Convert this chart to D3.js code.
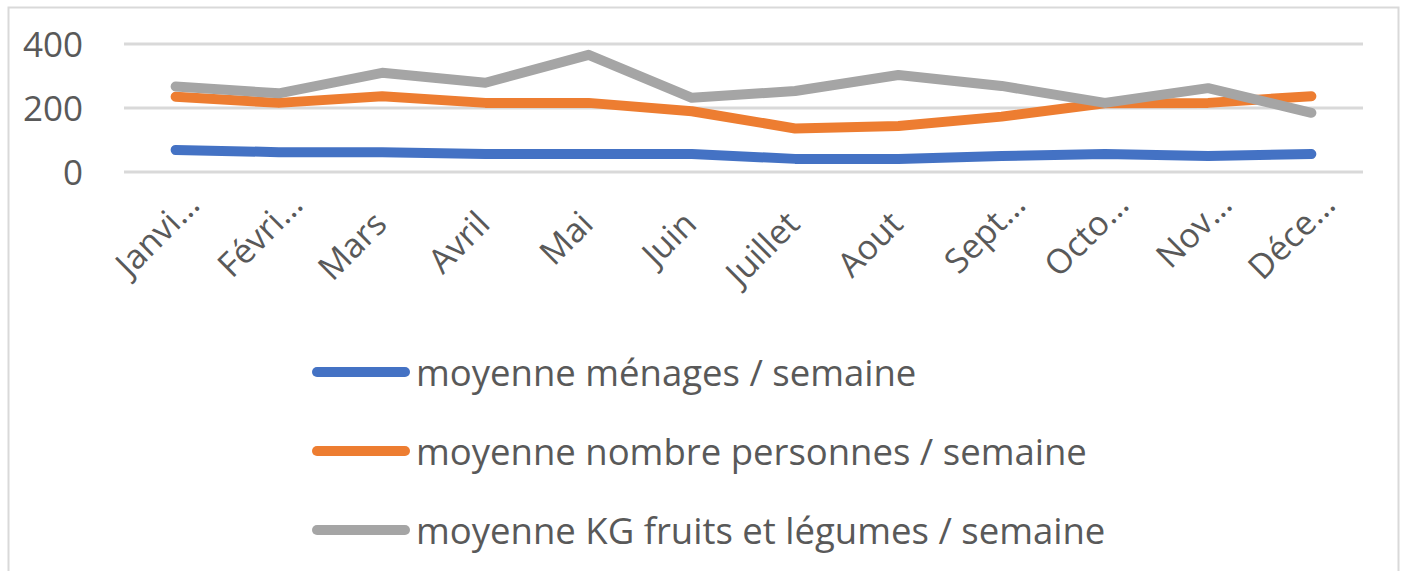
<!DOCTYPE html>
<html>
<head>
<meta charset="utf-8">
<script src="https://cdn.jsdelivr.net/npm/d3@7"></script>
<style>
  body { margin: 0; background: #fff; }
  text { font-family: "Open Sans", sans-serif; fill: #595959; }
</style>
</head>
<body>
<div id="app"></div>
<script>
var w = 1402;
var h = 571;

// categories (truncated the way the original axis shows them)
const mois = ["Janvi…", "Févri…", "Mars", "Avril", "Mai", "Juin", "Juillet", "Aout", "Sept…", "Octo…", "Nov…", "Déce…"];
const menages = [69, 62, 62, 56, 56, 56, 41, 41, 50, 56, 50, 56];
const personnes = [235, 216, 237, 216, 216, 190, 136, 144, 173, 215, 216, 237];
const kgFruits = [267, 246, 310, 279, 366, 232, 253, 303, 269, 216, 262, 185];
const yTicks = [0, 200, 400];

const series = [
    { name: "moyenne ménages / semaine", values: menages, color: "#4472C4" },
    { name: "moyenne nombre personnes / semaine", values: personnes, color: "#ED7D31" },
    { name: "moyenne KG fruits et légumes / semaine", values: kgFruits, color: "#A5A5A5" }
];

const svg = d3.select("#app")
    .append("svg")
    .attr("width", w)
    .attr("height", h)

// chart frame
svg.append("rect")
    .attr("x", 8.5)
    .attr("y", 7.5)
    .attr("width", 1390)
    .attr("height", h + 20)
    .attr("fill", "none")
    .attr("stroke", "#D9D9D9")
    .attr("stroke-width", 2)

const xScale = d3.scalePoint()
    .domain(mois)
    .range([124, 1363])
    .padding(0.5)

const yScale = d3.scaleLinear()
    .domain([0, 400])
    .range([172, 44])

// gridlines
svg.append("g")
    .selectAll("line")
    .data(yTicks)
    .enter()
    .append("line")
    .attr("x1", 124)
    .attr("x2", 1363)
    .attr("y1", d => yScale(d))
    .attr("y2", d => yScale(d))
    .attr("stroke", "#D9D9D9")
    .attr("stroke-width", 3)

const yAxis = d3.axisLeft(yScale)
    .tickValues(yTicks)
    .tickSize(0)
    .tickPadding(0)

svg.append("g")
    .attr("id", "y-axis")
    .attr("transform", "translate(83,0)")
    .call(yAxis)
    .call(g => g.select(".domain").remove())
    .selectAll("text")
    .style("font-size", "35px")
    .attr("fill", "#595959")
    .attr("dy", "0.36em")

const xAxis = d3.axisBottom(xScale)
    .tickSize(0)
    .tickPadding(0)

// truncated labels sit a bit further up-right in the original
svg.append("g")
    .attr("id", "x-axis")
    .attr("transform", "translate(0,208)")
    .call(xAxis)
    .call(g => g.select(".domain").remove())
    .selectAll("text")
    .style("font-size", "34px")
    .attr("fill", "#595959")
    .attr("text-anchor", "end")
    .attr("y", 0)
    .attr("dy", "0.75em")
    .attr("dx", d => d.endsWith("…") ? "0.8em" : "0em")
    .attr("transform", "translate(-12,0) rotate(-45)")

const line = d3.line()
    .x((d, i) => xScale(mois[i]))
    .y(d => yScale(d))

svg.append("g")
    .selectAll("path")
    .data(series)
    .enter()
    .append("path")
    .attr("d", d => line(d.values))
    .attr("fill", "none")
    .attr("stroke", d => d.color)
    .attr("stroke-width", 10)
    .attr("stroke-linecap", "round")
    .attr("stroke-linejoin", "round")

// legend
const legend = svg.append("g")
    .attr("id", "legend")
    .attr("transform", "translate(317,372)")

const item = legend.selectAll("g")
    .data(series)
    .enter()
    .append("g")
    .attr("transform", (d, i) => "translate(0," + (i * 79) + ")")

item.append("line")
    .attr("x1", 0)
    .attr("x2", 88)
    .attr("stroke", d => d.color)
    .attr("stroke-width", 10)
    .attr("stroke-linecap", "round")

item.append("text")
    .attr("x", 99)
    .attr("dy", "0.39em")
    .style("font-size", "36.5px")
    .text(d => d.name)
</script>
</body>
</html>
